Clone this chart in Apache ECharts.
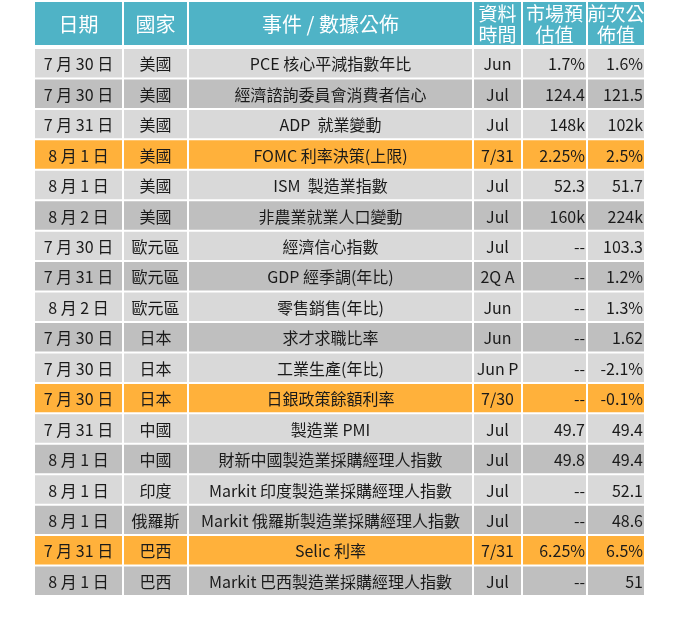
<!DOCTYPE html>
<html><head><meta charset="utf-8">
<script src="https://cdn.jsdelivr.net/npm/echarts@6/dist/echarts.min.js"></script>
<style>html,body{margin:0;background:#fff}#c{width:680px;height:622px}</style>
</head><body><div id="c"></div>
<script>
const headers = ['日期','國家','事件 / 數據公佈','資料\n時間','市場預\n估值','前次公\n佈值'];
const dates = ['7 月 30 日','7 月 30 日','7 月 31 日','8 月 1 日','8 月 1 日','8 月 2 日','7 月 30 日','7 月 31 日','8 月 2 日','7 月 30 日','7 月 30 日','7 月 30 日','7 月 31 日','8 月 1 日','8 月 1 日','8 月 1 日','7 月 31 日','8 月 1 日'];
const countries = ['美國','美國','美國','美國','美國','美國','歐元區','歐元區','歐元區','日本','日本','日本','中國','中國','印度','俄羅斯','巴西','巴西'];
const events = ['PCE 核心平減指數年比','經濟諮詢委員會消費者信心','ADP  就業變動','FOMC 利率決策(上限)','ISM  製造業指數','非農業就業人口變動','經濟信心指數','GDP 經季調(年比)','零售銷售(年比)','求才求職比率','工業生產(年比)','日銀政策餘額利率','製造業 PMI','財新中國製造業採購經理人指數','Markit 印度製造業採購經理人指數','Markit 俄羅斯製造業採購經理人指數','Selic 利率','Markit 巴西製造業採購經理人指數'];
const periods = ['Jun','Jul','Jul','7/31','Jul','Jul','Jul','2Q A','Jun','Jun','Jun P','7/30','Jul','Jul','Jul','Jul','7/31','Jul'];
const forecasts = ['1.7%','124.4','148k','2.25%','52.3','160k','--','--','--','--','--','--','49.7','49.8','--','--','6.25%','--'];
const previous = ['1.6%','121.5','102k','2.5%','51.7','224k','103.3','1.2%','1.3%','1.62','-2.1%','-0.1%','49.4','49.4','52.1','48.6','6.5%','51'];
const highlight = [0,0,0,1,0,0,0,0,0,0,0,1,0,0,0,0,1,0];

const edges = [0,89,154,439,488,553,611];
const aligns = ['center','center','center','center','right','right'];
const FONT = '"Noto Sans CJK TC","Noto Sans",sans-serif';
const rows = dates.map((d,i)=>[i,d,countries[i],events[i],periods[i],forecasts[i],previous[i],highlight[i]]);

const chart = echarts.init(document.getElementById('c'));
const headerEls = headers.map((h,j)=>({
  type:'group',
  children:[
    {type:'rect',shape:{x:34+edges[j]+1,y:2,width:edges[j+1]-edges[j]-2,height:43},style:{fill:'#4FB3C6'}},
    {type:'text',style:{x:34+(edges[j]+edges[j+1])/2,y:24,text:h,fill:'#fff',font:(j<3?'20px ':'19px ')+FONT,align:'center',verticalAlign:'middle',lineHeight:21}}
  ]
}));
chart.setOption({
  animation:false,
  grid:{left:34,right:35,top:48,bottom:26},
  xAxis:{type:'value',min:0,max:611,show:false},
  yAxis:{type:'category',data:dates.map((d,i)=>i),inverse:true,show:false},
  graphic:headerEls,
  series:[{
    type:'custom',
    data:rows.map(r=>[r[0]]),
    encode:{y:0},
    renderItem:function(params,api){
      const row = rows[params.dataIndex];
      const r = row[0];
      const c = api.coord([0,r]);
      const h = api.size([0,1])[1];
      const y0 = c[1]-h/2;
      const fill = row[7] ? '#FFB13B' : (r%2 ? '#BFBFBF' : '#D9D9D9');
      const children = [];
      for(let j=0;j<6;j++){
        const x0 = api.coord([edges[j],r])[0];
        const x1 = api.coord([edges[j+1],r])[0];
        children.push({type:'rect',shape:{x:x0+1,y:y0+1,width:x1-x0-2,height:h-2},style:{fill:fill}});
        const al = aligns[j];
        const tx = al==='right' ? x1-2 : (x0+x1)/2;
        children.push({type:'text',style:{x:tx,y:c[1]+1,text:String(row[j+1]),fill:'#1a1a1a',font:'16px '+FONT,align:al,verticalAlign:'middle'}});
      }
      return {type:'group',children:children};
    }
  }]
});
</script></body></html>
